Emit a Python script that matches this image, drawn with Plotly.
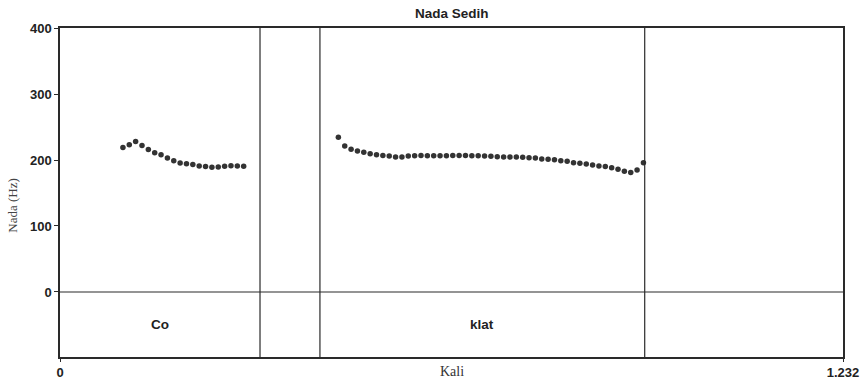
import plotly.graph_objects as go

title = "Nada Sedih"
x_label = "Kali"
y_label = "Nada (Hz)"
x_max = 1.232

seg1_time = [0.099, 0.109, 0.119, 0.129, 0.139, 0.149, 0.159, 0.169, 0.179, 0.189,
             0.199, 0.209, 0.219, 0.229, 0.239, 0.249, 0.259, 0.269, 0.279, 0.289]
seg1_hz = [219, 223, 228, 222, 216, 211, 208, 203, 199, 195.5,
           194.4, 193, 191, 190, 189, 189.4, 190.5, 191.4, 191, 190.5]

seg2_time = [0.438, 0.448, 0.458, 0.468, 0.478, 0.488, 0.498, 0.508, 0.518, 0.528,
             0.538, 0.548, 0.558, 0.568, 0.578, 0.588, 0.598, 0.608, 0.618, 0.628,
             0.638, 0.648, 0.658, 0.668, 0.678, 0.688, 0.698, 0.708, 0.718, 0.728,
             0.738, 0.748, 0.758, 0.768, 0.778, 0.788, 0.798, 0.808, 0.818, 0.828,
             0.838, 0.848, 0.858, 0.868, 0.878, 0.888, 0.898, 0.908, 0.918]
seg2_hz = [234.3, 221.2, 216.2, 213.6, 211.6, 209.6, 208, 207, 206, 204.5,
           204.5, 206, 206.6, 207, 206.6, 206.6, 206.6, 206.6, 207, 207,
           207, 206.6, 206.6, 206, 205.5, 205, 204.5, 204.5, 204.5, 204,
           203.5, 203, 201.5, 201, 200.5, 199, 198, 196, 195, 194,
           192.4, 191, 190, 188.4, 186, 183, 181, 185, 196]

boundaries = [0.3147, 0.409, 0.920]
interval_start = [0.0, 0.409]
interval_end = [0.3147, 0.920]
interval_text = ["Co", "klat"]

y_ticks = [0, 100, 200, 300, 400]
x_ticks = [0, x_max]
x_tick_text = ["0", "1.232"]
y_min, y_max = -98.5, 400
tier_mid = -49

dot_color = "#333333"
line_color = "#2a2a2a"
sans = "Liberation Sans, Arial"
serif = "Liberation Serif, Times New Roman"

fig = go.Figure()
for t, h in [(seg1_time, seg1_hz), (seg2_time, seg2_hz)]:
    fig.add_trace(go.Scatter(x=t, y=h, mode="markers",
                             marker=dict(size=5.5, color=dot_color),
                             showlegend=False, hoverinfo="skip"))

for b in boundaries:
    fig.add_shape(type="line", xref="x", yref="paper", x0=b, x1=b, y0=0, y1=1,
                  line=dict(color=line_color, width=1.2))
fig.add_shape(type="line", xref="paper", yref="y", x0=0, x1=1, y0=0, y1=0,
              line=dict(color=line_color, width=1.2))

for s, e, txt in zip(interval_start, interval_end, interval_text):
    fig.add_annotation(x=(s + e) / 2, y=tier_mid, xref="x", yref="y", text=f"<b>{txt}</b>",
                       showarrow=False, font=dict(family=sans, size=13.5, color="#222"))

fig.add_annotation(x=0.5, y=1, xref="paper", yref="paper", yanchor="bottom", yshift=5,
                   text=f"<b>{title}</b>", showarrow=False,
                   font=dict(family=sans, size=13.5, color="#222"))
fig.add_annotation(x=0.5, y=0, xref="paper", yref="paper", yanchor="top", yshift=-5,
                   text=x_label, showarrow=False,
                   font=dict(family=serif, size=14, color="#333333"))
fig.add_annotation(x=0, y=0.46, xref="paper", yref="paper", xanchor="center",
                   yanchor="middle", xshift=-47,
                   text=y_label, showarrow=False, textangle=-90,
                   font=dict(family=serif, size=13, color="#444444"))

tick_font = dict(family=sans, size=13, color="#222", weight="bold")

fig.update_layout(
    width=867, height=380,
    margin=dict(l=60, r=24, t=28, b=23, autoexpand=False),
    plot_bgcolor="white", paper_bgcolor="white",
    xaxis=dict(range=[0, x_max], tickvals=x_ticks, ticktext=x_tick_text,
               automargin=False,
               showgrid=False, zeroline=False, showline=True, mirror=True,
               linecolor=line_color, linewidth=1.5, ticks="outside", ticklen=3,
               tickcolor=line_color, tickfont=tick_font),
    yaxis=dict(range=[y_min, y_max], tickvals=y_ticks,
               automargin=False,
               showgrid=False, zeroline=False, showline=True, mirror=True,
               linecolor=line_color, linewidth=1.5, ticks="outside", ticklen=4,
               tickcolor=line_color, tickfont=tick_font),
)

fig.write_html("out.html", config={"displayModeBar": False},
               post_script="document.body.style.margin='0px';document.body.style.overflow='hidden';")
